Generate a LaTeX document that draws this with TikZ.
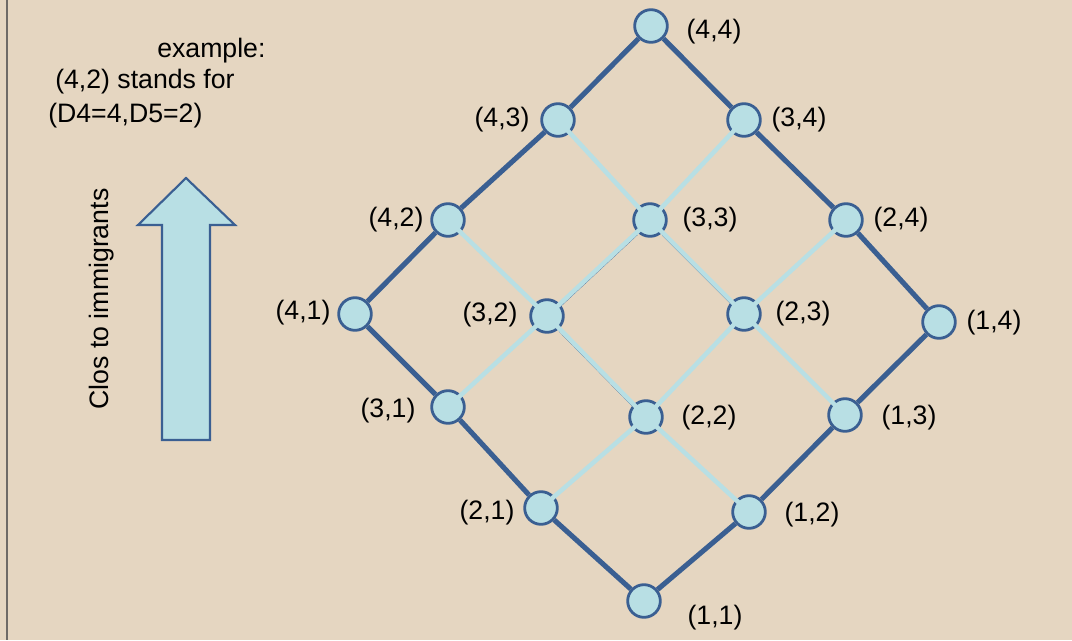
\documentclass[tikz,border=0pt]{standalone}
\usepackage{fontspec}
\setmainfont{Liberation Sans}
\definecolor{bgtan}{HTML}{E5D6C1}
\definecolor{nodefill}{HTML}{B8DFE4}
\definecolor{darkblue}{HTML}{3A5F92}
\definecolor{framegray}{HTML}{6E6A66}
\tikzset{
  vtx/.style={circle, draw=darkblue, fill=nodefill, line width=2.1pt, minimum size=24.5pt, inner sep=0pt},
  outeredge/.style={draw=darkblue, line width=3.8pt},
  inneredge/.style={draw=nodefill, line width=3.4pt},
  thinedge/.style={draw=darkblue, line width=1.1pt},
  lbl/.style={font=\fontsize{20}{24}\selectfont, inner sep=0pt},
  note/.style={font=\fontsize{20}{24}\selectfont, inner sep=0pt, anchor=west},
  bigarrow/.style={fill=nodefill, draw=darkblue, line width=1.6pt, line join=miter},
}
\begin{document}
\begin{tikzpicture}[x=0.75pt,y=-0.75pt]
  \fill[bgtan, use as bounding box] (0,0) rectangle (1072,640);
  \draw[framegray, line width=1.2pt] (7,0) -- (7,640);
  \node[note] (ex1) at (157,51) {example:};
  \node[note] (ex2) at (55,82) {(4,2) stands for};
  \node[note] (ex3) at (48,116) {(D4=4,D5=2)};
  \node[lbl, rotate=90] (clos) at (102,299) {Clos to immigrants};
  \draw[bigarrow] (186,178) -- (235,225) -- (210,225) -- (210,440) -- (162,440) -- (162,225) -- (138,225) -- cycle;
  \node[vtx] (n44) at (651,26) {};
  \node[vtx] (n43) at (558,120) {};
  \node[vtx] (n34) at (744,120) {};
  \node[vtx] (n42) at (448,220) {};
  \node[vtx] (n33) at (650,220) {};
  \node[vtx] (n24) at (846,220) {};
  \node[vtx] (n41) at (355,314) {};
  \node[vtx] (n32) at (547,316) {};
  \node[vtx] (n23) at (744,314) {};
  \node[vtx] (n14) at (939,322) {};
  \node[vtx] (n31) at (448,407) {};
  \node[vtx] (n22) at (646,417) {};
  \node[vtx] (n13) at (845,415) {};
  \node[vtx] (n21) at (541,508) {};
  \node[vtx] (n12) at (749,512) {};
  \node[vtx] (n11) at (644,601) {};
  \draw[outeredge] (n41) -- (n42) -- (n43) -- (n44) -- (n34) -- (n24) -- (n14);
  \draw[outeredge] (n41) -- (n31) -- (n21) -- (n11) -- (n12) -- (n13) -- (n14);
  \draw[thinedge, transform canvas={yshift=-1.8pt}] (n32) -- (n33) -- (n23);
  \draw[thinedge, transform canvas={yshift=-1.8pt}] (n32) -- (n22);
  \draw[inneredge] (n42.center) -- (n32.center) -- (n22.center) -- (n12.center);
  \draw[inneredge] (n43.center) -- (n33.center) -- (n23.center) -- (n13.center);
  \draw[inneredge] (n34.center) -- (n33.center) -- (n32.center) -- (n31.center);
  \draw[inneredge] (n24.center) -- (n23.center) -- (n22.center) -- (n21.center);
  \node[lbl] (l44) at (714,32) {(4,4)};
  \node[lbl] (l43) at (502,120) {(4,3)};
  \node[lbl] (l34) at (799,120) {(3,4)};
  \node[lbl] (l42) at (396,220) {(4,2)};
  \node[lbl] (l33) at (710,220) {(3,3)};
  \node[lbl] (l24) at (901,220) {(2,4)};
  \node[lbl] (l41) at (303,313) {(4,1)};
  \node[lbl] (l32) at (490,315) {(3,2)};
  \node[lbl] (l23) at (803,314) {(2,3)};
  \node[lbl] (l14) at (994,323) {(1,4)};
  \node[lbl] (l31) at (388,411) {(3,1)};
  \node[lbl] (l22) at (709,418) {(2,2)};
  \node[lbl] (l13) at (909,418) {(1,3)};
  \node[lbl] (l21) at (487,513) {(2,1)};
  \node[lbl] (l12) at (812,515) {(1,2)};
  \node[lbl] (l11) at (715,618) {(1,1)};
\end{tikzpicture}
\end{document}
